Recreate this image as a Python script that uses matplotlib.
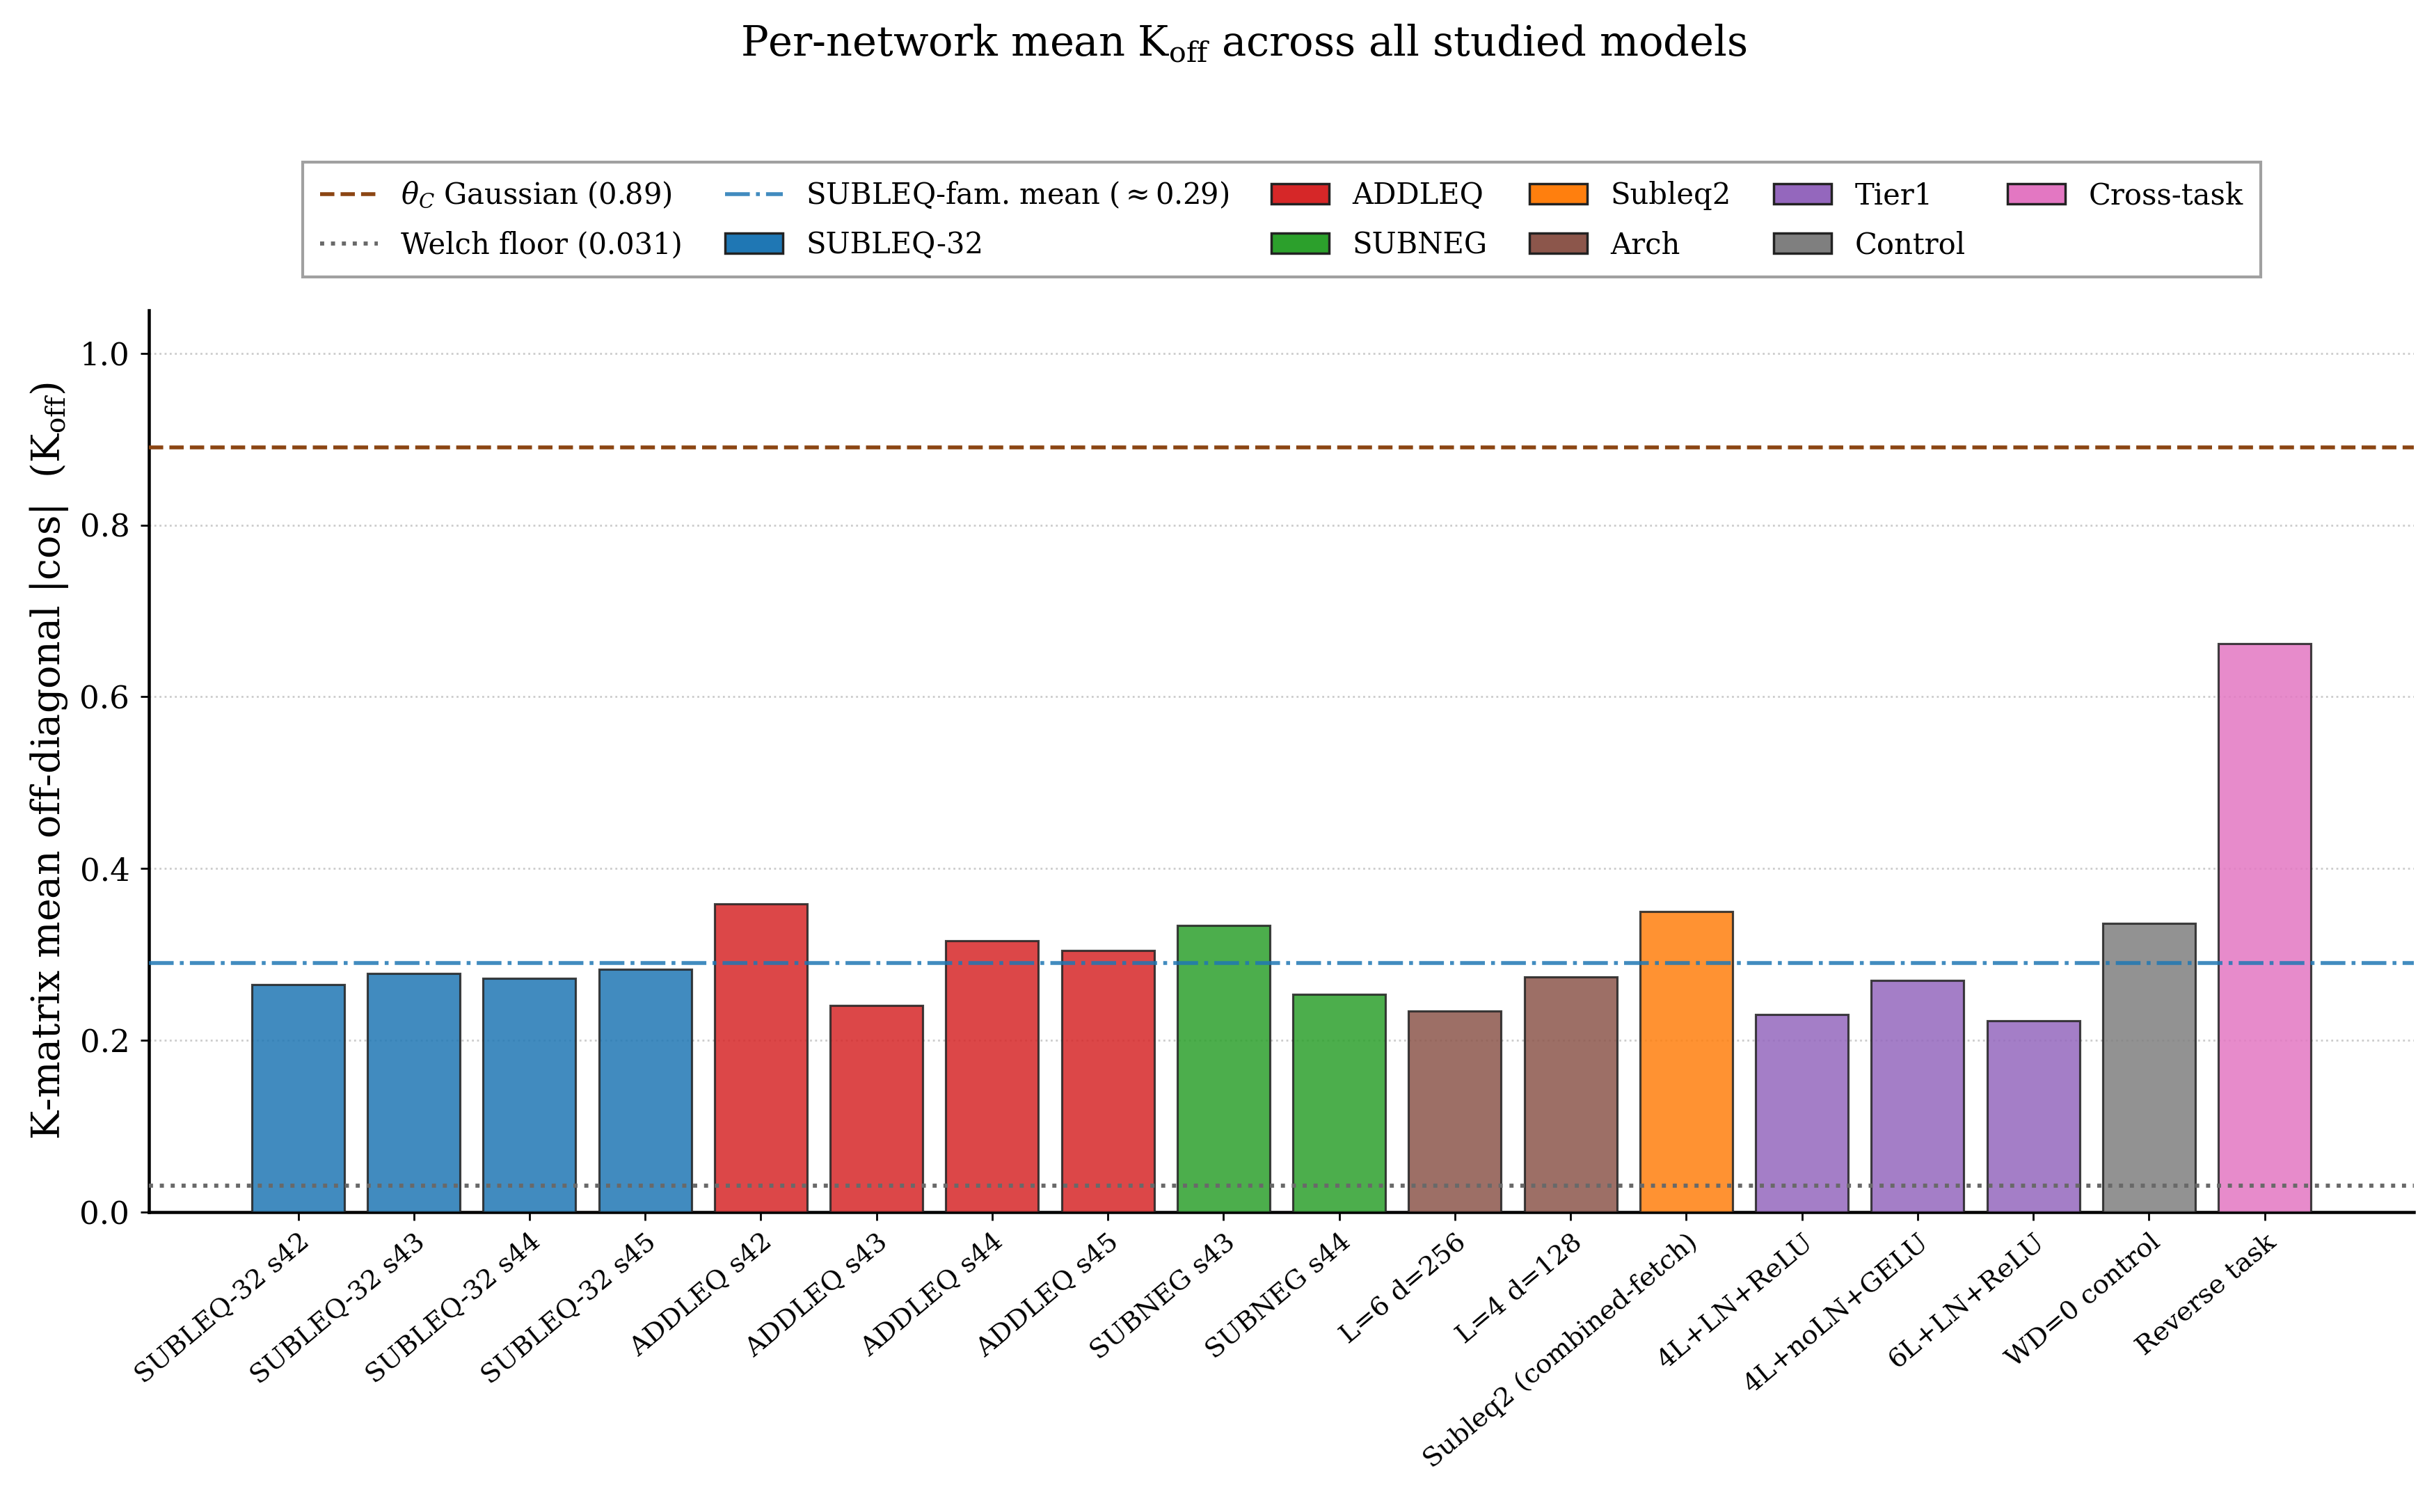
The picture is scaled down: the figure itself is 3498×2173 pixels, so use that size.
import matplotlib
matplotlib.use("Agg")
import matplotlib.pyplot as plt
from matplotlib.patches import Patch
from matplotlib.lines import Line2D

plt.rcParams['font.family'] = ['DejaVu Serif']
plt.rcParams['mathtext.fontset'] = 'dejavuserif'

# data
labels = ['SUBLEQ-32 s42', 'SUBLEQ-32 s43', 'SUBLEQ-32 s44', 'SUBLEQ-32 s45',
          'ADDLEQ s42', 'ADDLEQ s43', 'ADDLEQ s44', 'ADDLEQ s45',
          'SUBNEG s43', 'SUBNEG s44', 'L=6 d=256', 'L=4 d=128',
          'Subleq2 (combined-fetch)', '4L+LN+ReLU', '4L+noLN+GELU', '6L+LN+ReLU',
          'WD=0 control', 'Reverse task']
k_off = [0.265, 0.278, 0.272, 0.283,
         0.359, 0.241, 0.316, 0.305,
         0.334, 0.254, 0.234, 0.274,
         0.350, 0.230, 0.270, 0.223,
         0.336, 0.662]
groups = ['SUBLEQ-32'] * 4 + ['ADDLEQ'] * 4 + ['SUBNEG'] * 2 + ['Arch'] * 2 + \
         ['Subleq2'] + ['Tier1'] * 3 + ['Control'] + ['Cross-task']
group_names = ['SUBLEQ-32', 'ADDLEQ', 'SUBNEG', 'Subleq2', 'Arch', 'Tier1', 'Control', 'Cross-task']
group_colors = {'SUBLEQ-32': 'tab:blue', 'ADDLEQ': 'tab:red', 'SUBNEG': 'tab:green',
                'Subleq2': 'tab:orange', 'Arch': 'tab:brown', 'Tier1': 'tab:purple',
                'Control': 'tab:gray', 'Cross-task': 'tab:pink'}
theta_c = 0.89
welch_floor = 0.031
fam_mean = 0.29

fig = plt.figure(figsize=(13.992, 8.692), dpi=250)
ax = fig.add_axes([0.0612, 0.1983, 0.9305, 0.5965])

x = range(len(labels))
ax.bar(x, k_off, width=0.8, color=[group_colors[g] for g in groups], alpha=0.85,
       edgecolor='#222222', linewidth=0.9, zorder=3)

ax.axhline(theta_c, color='#8B4513', ls='--', lw=1.6, zorder=4)
ax.axhline(welch_floor, color='dimgray', ls=':', lw=1.7, zorder=4)
ax.axhline(fam_mean, color='tab:blue', ls='-.', lw=1.6, alpha=0.85, zorder=4)

ax.set_ylim(0, 1.05)
ax.set_xticks(list(x))
ax.set_xticklabels(labels, rotation=40, ha='right', rotation_mode='anchor', fontsize=11)
ax.tick_params(axis='y', labelsize=13, pad=4.5)
ax.set_ylabel(r'K-matrix mean off-diagonal $|\cos|$  ($\mathrm{K}_{\mathrm{off}}$)', fontsize=16)
ax.grid(axis='y', ls=':', color='#cccccc', lw=0.8, zorder=0)
ax.spines['top'].set_visible(False)
ax.spines['right'].set_visible(False)
ax.spines['left'].set_linewidth(1.3)
ax.spines['bottom'].set_linewidth(1.3)

handles = [Line2D([], [], color='#8B4513', ls='--', lw=1.6),
           Line2D([], [], color='dimgray', ls=':', lw=1.7),
           Line2D([], [], color='tab:blue', ls='-.', lw=1.6, alpha=0.85)]
names = [r'$\theta_C$ Gaussian (0.89)', 'Welch floor (0.031)', r'SUBLEQ-fam. mean ($\approx$0.29)']
for g in group_names:
    handles.append(Patch(facecolor=group_colors[g], edgecolor='#222222'))
    names.append(g)
leg = fig.legend(handles, names, ncol=6, loc='center', bbox_to_anchor=(0.5265, 0.8547),
                 fontsize=12, frameon=True, fancybox=False, edgecolor='#888888',
                 handlelength=2.0, columnspacing=1.45, labelspacing=0.7, borderpad=0.6)
leg.get_frame().set_linewidth(1.2)

fig.suptitle(r'Per-network mean $\mathrm{K}_{\mathrm{off}}$ across all studied models',
             fontsize=17, x=0.511, y=0.985)

fig.savefig('out.png', dpi=250)
